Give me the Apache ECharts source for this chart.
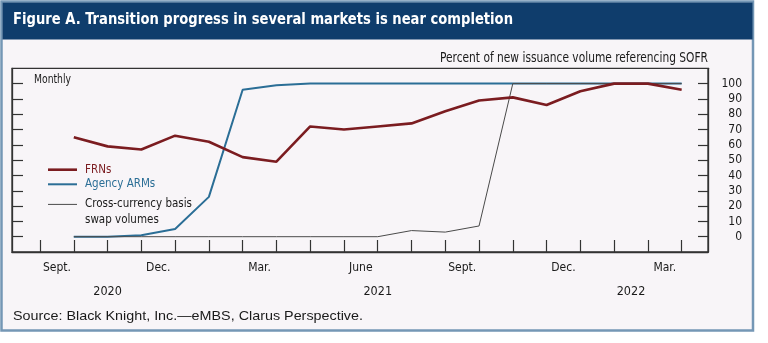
<!DOCTYPE html>
<html><head><meta charset="utf-8">
<script src="https://cdn.jsdelivr.net/npm/echarts@6/dist/echarts.min.js"></script>
<style>html,body{margin:0;padding:0;background:#fff}#c{width:768px;height:343px}</style>
</head><body><div id="c"></div>
<script>
// ---- data ----
const months = ['Sept.','Oct.','Nov.','Dec.','Jan.','Feb.','Mar.','Apr.','May','June','July','Aug.','Sept.','Oct.','Nov.','Dec.','Jan.','Feb.','Mar.'];
const monthTickLabels = ['Sept.','Dec.','Mar.','June','Sept.','Dec.','Mar.'];
const yearLabels = ['2020','2021','2022'];
const yearMonthCounts = [4, 12, 3];
const yTickLabels = [0,10,20,30,40,50,60,70,80,90,100];
const frns = [65,59,57,66,62,52,49,72,70,72,74,82,89,91,86,95,100,100,96];
const agencyArms = [0,0,1,5,26,96,99,100,100,100,100,100,100,100,100,100,100,100,100];
const crossCurrency = [0,0,0,0,0,0,0,0,0,0,4,3,7,100,100,100,100,100,100];
const seriesNames = ['FRNs','Agency ARMs','Cross-currency basis\nswap volumes'];

// ---- build ----
const COND = '"DejaVu Sans Condensed","Liberation Sans Narrow",sans-serif';
const toPts = arr => arr.map((v,i)=>[i+1, v]);
const tickVals = months.map((m,i)=>i).concat([months.length]);
const monthLabelVals = monthTickLabels.map((m,k)=>k*3+0.5);
const yearVals = []; let acc = 0;
yearMonthCounts.forEach(n=>{ yearVals.push(acc + n/2); acc += n; });

const mctx = document.createElement('canvas').getContext('2d');
function fitScale(text, font, target){
  mctx.font = font; const w = mctx.measureText(text).width;
  return target / w;
}
const titleText = 'Figure A. Transition progress in several markets is near completion';
const titleFont = 'bold 15px ' + COND;
const unitText = 'Percent of new issuance volume referencing SOFR';
const unitFont = '13.5px ' + COND;
const monthlyFont = '12.5px ' + COND;
const srcText = 'Source: Black Knight, Inc.\u2014eMBS, Clarus Perspective.';
const srcFont = '13.5px "Liberation Sans",Arial,sans-serif';

const axisCol = '#333333';
const txtCol = '#1a1a1a';
const lineIcon = h => 'path://M0,0H29V' + h + 'H0Z';

const chart = echarts.init(document.getElementById('c'), null, {renderer:'canvas'});
chart.setOption({
  animation:false,
  backgroundColor:'#ffffff',
  graphic:[
    {type:'rect', z:-10, shape:{x:1.5,y:1.5,width:751.5,height:329}, style:{fill:'#f8f5f8', stroke:'#7497b5', lineWidth:2.5}},
    {type:'rect', z:-9, shape:{x:2.5,y:2.5,width:750,height:37}, style:{fill:'#0f3d6c'}},
    {type:'text', z:100, x:13, y:20, scaleX:fitScale(titleText,titleFont,500), style:{text:titleText, font:titleFont, fill:'#ffffff', verticalAlign:'middle'}},
    {type:'text', z:100, x:708, y:58, scaleX:fitScale(unitText,unitFont,268), style:{text:unitText, font:unitFont, fill:txtCol, align:'right', verticalAlign:'middle'}},
    {type:'text', z:100, x:34, y:80, scaleX:fitScale('Monthly',monthlyFont,37), style:{text:'Monthly', font:monthlyFont, fill:txtCol, verticalAlign:'middle'}},
    {type:'text', z:100, x:13, y:316, scaleX:fitScale(srcText,srcFont,350), style:{text:srcText, font:srcFont, fill:txtCol, verticalAlign:'middle'}}
  ],
  grid:{left:12, right:60, top:68.3, bottom:91, show:true, borderColor:axisCol, borderWidth:1.3, backgroundColor:'transparent'},
  legend:[
    {orient:'vertical', left:43, top:158.7, itemWidth:29, itemHeight:14, itemGap:2.6, selectedMode:false,
     textStyle:{fontFamily:COND, fontSize:11.5, padding:[0,0,0,3]},
     data:[
       {name:seriesNames[0], icon:lineIcon(2.6), textStyle:{color:'#7b1c20'}},
       {name:seriesNames[1], icon:lineIcon(2), textStyle:{color:'#2b6e96'}}
     ]},
    {orient:'vertical', left:43, top:175.4, itemWidth:29, itemHeight:14, selectedMode:false,
     textStyle:{fontFamily:COND, fontSize:11.5, color:txtCol, lineHeight:16, padding:[0,0,0,3]},
     formatter:n=>'\n'+n,
     data:[{name:seriesNames[2], icon:lineIcon(1)}]}
  ],
  xAxis:[
    {type:'value', min:-0.83, max:19.78, position:'bottom',
     axisLine:{show:true, onZero:false, lineStyle:{color:axisCol, width:1.3}},
     axisTick:{show:true, inside:true, length:12, customValues:tickVals, lineStyle:{color:axisCol, width:1.2}},
     splitLine:{show:false},
     axisLabel:{show:true, customValues:monthLabelVals, margin:10, fontFamily:COND, fontSize:12, color:txtCol,
       formatter:v=>monthTickLabels[Math.round((v-0.5)/3)]}},
    {type:'value', min:-0.83, max:19.78, position:'bottom', offset:0,
     axisLine:{show:false, onZero:false}, axisTick:{show:false}, splitLine:{show:false},
     axisLabel:{show:true, customValues:yearVals, margin:33, fontFamily:COND, fontSize:12.5, color:txtCol,
       formatter:v=>yearLabels[yearVals.indexOf(v)]}}
  ],
  yAxis:[
    {type:'value', min:-10, max:110, position:'left',
     axisLine:{show:true, onZero:false, lineStyle:{color:axisCol, width:1.3}},
     axisTick:{show:true, inside:true, length:11, customValues:yTickLabels, lineStyle:{color:axisCol, width:1.2}},
     axisLabel:{show:false}, splitLine:{show:false}},
    {type:'value', min:-10, max:110, position:'right',
     axisLine:{show:true, onZero:false, lineStyle:{color:axisCol, width:1.3}},
     axisTick:{show:true, inside:true, length:10, customValues:yTickLabels, lineStyle:{color:axisCol, width:1.2}},
     axisLabel:{show:true, customValues:yTickLabels, margin:34, align:'right', fontFamily:COND, fontSize:12, color:txtCol},
     splitLine:{show:false}}
  ],
  series:[
    {name:seriesNames[1], type:'line', data:toPts(agencyArms), symbol:'none', lineStyle:{color:'#2b6e96', width:2}, itemStyle:{color:'#2b6e96'}},
    {name:seriesNames[2], type:'line', data:toPts(crossCurrency), symbol:'none', lineStyle:{color:'#4a4a4a', width:1}, itemStyle:{color:'#4a4a4a'}},
    {name:seriesNames[0], type:'line', data:toPts(frns), symbol:'none', lineStyle:{color:'#7b1c20', width:2.6}, itemStyle:{color:'#7b1c20'}}
  ]
});
</script></body></html>
